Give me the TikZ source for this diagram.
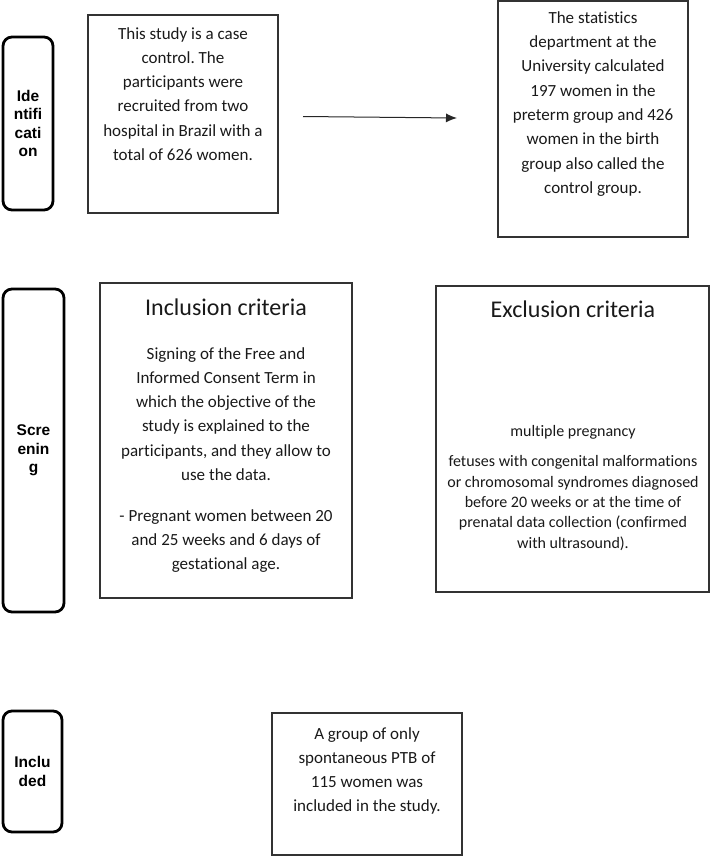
\documentclass[tikz,border=0pt]{standalone}
\usepackage{fontspec}
\setmainfont{Carlito}[Ligatures=NoCommon]
\newfontfamily\labfont{Liberation Sans}
\usetikzlibrary{arrows.meta}
\frenchspacing
\begin{document}
\frenchspacing
\begin{tikzpicture}[x=1pt,y=-1pt,
  box/.style={draw=black!80, line width=1.2pt, inner sep=0pt},
  stage/.style={draw=black, line width=2.8pt, rounded corners=9pt, inner sep=0pt,
    align=center, font=\labfont\bfseries\fontsize{15.5}{18.3}\selectfont},
  body/.style={align=center, inner sep=0pt, text=black!90,
    font=\fontsize{17}{24.3}\selectfont},
  small/.style={align=center, inner sep=0pt, text=black!90,
    font=\fontsize{16}{20.3}\selectfont},
  head/.style={align=center, inner sep=0pt, text=black!90,
    font=\fontsize{24}{28}\selectfont},
  conn/.style={-{Latex[length=11pt,width=9pt]}, line width=1pt, black!85}
]
\useasboundingbox (0,0) rectangle (711,857);

% stage labels
\node[stage, minimum width=50pt, minimum height=173pt] (s1) at (28,123.5) {Ide\\ntifi\\cati\\on};
\node[stage, minimum width=61pt, minimum height=323pt] (s2) at (33.5,450.5) {Scre\\enin\\g};
\node[stage, minimum width=59pt, minimum height=121pt] (s3) at (32.5,771.5) {Inclu\\ded};

% boxes
\node[box, minimum width=190pt, minimum height=198pt] (b1) at (183,114) {};
\node[box, minimum width=190pt, minimum height=236pt] (b2) at (593,119) {};
\node[box, minimum width=252pt, minimum height=315pt] (inc) at (226,440.5) {};
\node[box, minimum width=273pt, minimum height=306pt] (exc) at (572.5,439) {};
\node[box, minimum width=190pt, minimum height=142pt] (fin) at (367,784) {};

% texts
\node[body] (t1) at (183,94) {This study is a case\\control. The\\participants were\\recruited from two\\hospital in Brazil with a\\total of 626 women.};
\node[body] (t2) at (593,104) {The statistics\\department at the\\University calculated\\197 women in the\\preterm group and 426\\women in the birth\\group also called the\\control group.};
\node[head] (ih) at (226,307) {Inclusion criteria};
\node[body] (i1) at (226,414) {Signing of the Free and\\Informed Consent Term in\\which the objective of the\\study is explained to the\\participants, and they allow to\\use the data.};
\node[body] (i2) at (226,541) {- Pregnant women between 20\\and 25 weeks and 6 days of\\gestational age.};
\node[head] (eh) at (573,309) {Exclusion criteria};
\node[small] (e1) at (573,432) {multiple pregnancy};
\node[small] (e2) at (573,503) {fetuses with congenital malformations\\or chromosomal syndromes diagnosed\\before 20 weeks or at the time of\\prenatal data collection (confirmed\\with ultrasound).};
\node[body] (t3) at (367,771) {A group of only\\spontaneous PTB of\\115 women was\\included in the study.};

% arrow
\coordinate (a1) at (303,116.5);
\coordinate (a2) at (457,118);
\draw[conn] (a1) -- (a2);
\end{tikzpicture}
\end{document}
